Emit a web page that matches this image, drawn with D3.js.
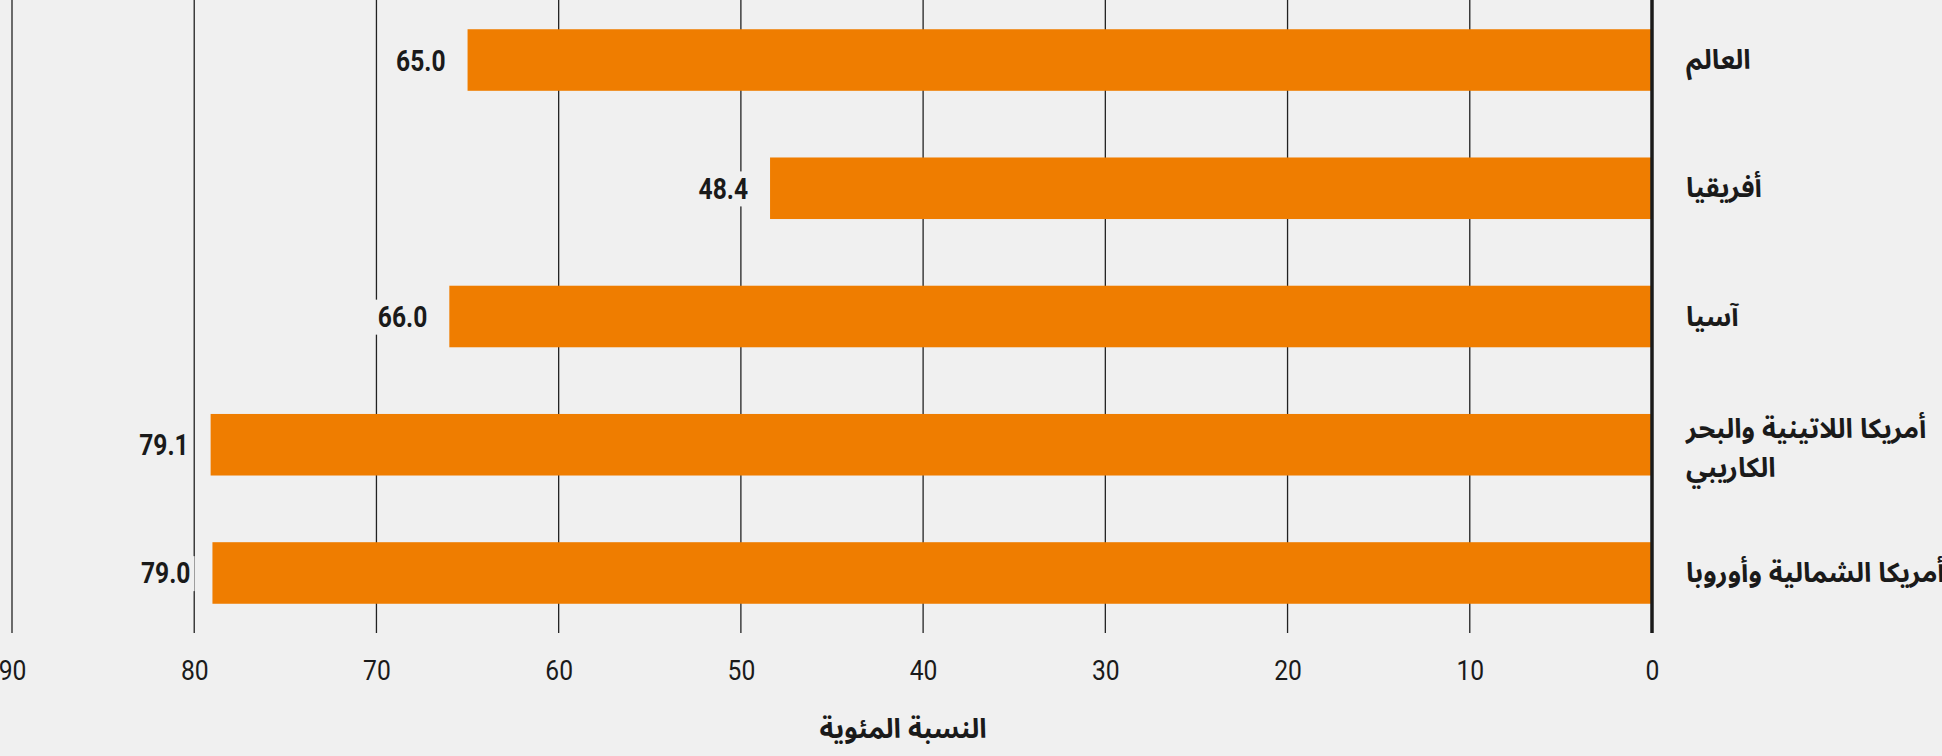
<!DOCTYPE html>
<html>
<head>
<meta charset="utf-8">
<script src="https://cdn.jsdelivr.net/npm/d3@7/dist/d3.min.js"></script>
<style>
  html, body { margin: 0; padding: 0; background: #f0f0f0; }
  svg { display: block; }
</style>
</head>
<body>
<script>
// ---- data ----
const categories = [
  ["العالم"],
  ["أفريقيا"],
  ["آسيا"],
  ["أمريكا اللاتينية والبحر", "الكاريبي"],
  ["أمريكا الشمالية وأوروبا"]
];
const values = [65.0, 48.4, 66.0, 79.1, 79.0];
const tickValues = [0, 10, 20, 30, 40, 50, 60, 70, 80, 90];
const axisTitle = "النسبة المئوية";

// ---- layout ----
const W = 1942, H = 756;
const bg = "#f0f0f0";
const barColor = "#ef7d00";
const ink = "#1a1a1a";
const numFont = "Roboto, 'Liberation Sans', sans-serif";
const arFont = "'Noto Sans Arabic', 'DejaVu Sans', sans-serif";

const svg = d3.select("body").append("svg").attr("width", W).attr("height", H);
svg.append("rect").attr("width", W).attr("height", H).attr("fill", bg);

const x = d3.scaleLinear().domain([0, 90]).range([1652, 12]);
const idx = d3.range(values.length);
const y = d3.scaleBand().domain(idx).range([0, 633]).paddingInner(0.52).paddingOuter(0.228);

// gridlines
svg.append("g").selectAll("line").data(tickValues.filter(d => d !== 0)).join("line")
  .attr("x1", d => x(d)).attr("x2", d => x(d))
  .attr("y1", 0).attr("y2", 633)
  .attr("stroke", "#222").attr("stroke-width", 1.3);

// x axis tick labels
const axis = d3.axisBottom(x).tickValues(tickValues).tickSize(0).tickPadding(0).tickFormat(d3.format("d"));
const ga = svg.append("g").attr("transform", "translate(0,633)").call(axis);
ga.select(".domain").remove();
ga.selectAll("text")
  .attr("dy", null).attr("y", 0)
  .attr("transform", "translate(0,47) scale(0.88,1)")
  .attr("font-family", numFont).attr("font-size", 28).attr("fill", ink);

// bars
svg.append("g").selectAll("rect").data(idx).join("rect")
  .attr("x", i => x(values[i]))
  .attr("width", i => x(0) - x(values[i]))
  .attr("y", i => y(i))
  .attr("height", y.bandwidth())
  .attr("fill", barColor);

// zero axis line
svg.append("line")
  .attr("x1", x(0)).attr("x2", x(0)).attr("y1", 0).attr("y2", 633)
  .attr("stroke", "#1a1a1a").attr("stroke-width", 3.5);

// value labels with background
const vl = svg.append("g").selectAll("g").data(idx).join("g")
  .attr("transform", i => `translate(${x(values[i]) - 22},${y(i) + y.bandwidth() / 2 + 10.5}) scale(0.82,1)`);
vl.each(function(i) {
  const g = d3.select(this);
  const t = g.append("text")
    .attr("x", 0).attr("y", 0)
    .attr("text-anchor", "end")
    .attr("font-family", numFont).attr("font-weight", "bold")
    .attr("font-size", 30).attr("fill", ink)
    .text(d3.format(".1f")(values[i]));
  const b = t.node().getBBox();
  g.insert("rect", "text")
    .attr("x", b.x - 5).attr("y", b.y).attr("width", b.width + 10).attr("height", b.height)
    .attr("fill", bg);
});

// category labels
const cl = svg.append("g").selectAll("text").data(idx).join("text")
  .attr("x", 1686)
  .attr("font-family", arFont).attr("font-weight", "bold")
  .attr("font-size", 27).attr("fill", ink)
  .attr("text-anchor", "start");
cl.each(function(i) {
  const t = d3.select(this);
  const cy = y(i) + y.bandwidth() / 2;
  const lines = categories[i];
  if (lines.length === 1) {
    t.attr("y", cy + 9).text(lines[0]);
  } else {
    lines.forEach((ln, k) => {
      t.append("tspan").attr("x", 1686).attr("y", cy - 7 + k * 39).text(ln);
    });
  }
});

// axis title
svg.append("text")
  .attr("x", 903).attr("y", 738)
  .attr("text-anchor", "middle")
  .attr("font-family", arFont).attr("font-weight", "bold")
  .attr("font-size", 27).attr("fill", ink)
  .text(axisTitle);
</script>
</body>
</html>
